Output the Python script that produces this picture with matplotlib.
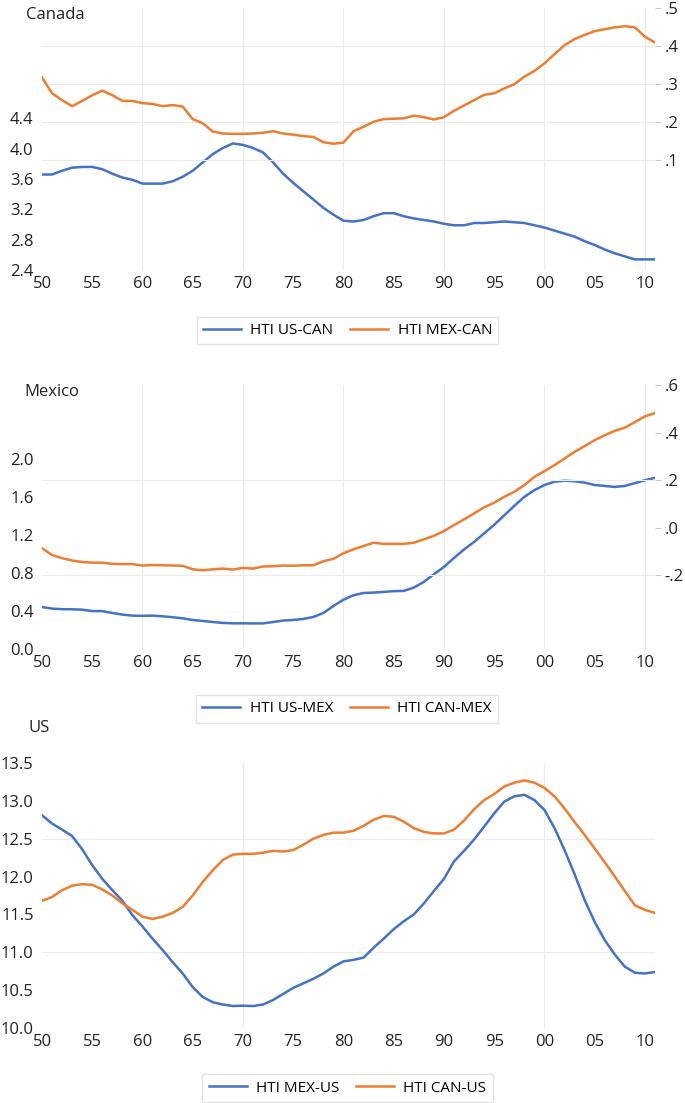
import matplotlib
matplotlib.use("Agg")
import matplotlib.pyplot as plt
from matplotlib.ticker import FuncFormatter

plt.rcParams['font.family'] = ['Open Sans', 'DejaVu Sans']

years = list(range(1950, 2012))

# Canada panel
hti_us_can = [3.66, 3.66, 3.71, 3.75, 3.76, 3.76, 3.73, 3.67, 3.62, 3.59,
              3.54, 3.54, 3.54, 3.57, 3.63, 3.71, 3.82, 3.93, 4.01, 4.07,
              4.05, 4.01, 3.95, 3.82, 3.67, 3.55, 3.44, 3.33, 3.22, 3.13,
              3.05, 3.04, 3.06, 3.11, 3.15, 3.15, 3.11, 3.08, 3.06, 3.04,
              3.01, 2.99, 2.99, 3.02, 3.02, 3.03, 3.04, 3.03, 3.02, 2.99,
              2.96, 2.92, 2.88, 2.84, 2.78, 2.73, 2.67, 2.62, 2.58, 2.54,
              2.54, 2.54]
hti_mex_can = [0.318, 0.276, 0.258, 0.242, 0.256, 0.271, 0.283, 0.271, 0.256, 0.256,
               0.250, 0.248, 0.242, 0.245, 0.241, 0.208, 0.197, 0.175, 0.170, 0.169,
               0.169, 0.170, 0.172, 0.176, 0.170, 0.167, 0.163, 0.161, 0.147, 0.143,
               0.146, 0.176, 0.188, 0.201, 0.208, 0.209, 0.210, 0.217, 0.213, 0.207,
               0.213, 0.230, 0.244, 0.258, 0.272, 0.276, 0.289, 0.300, 0.320, 0.335,
               0.355, 0.379, 0.403, 0.419, 0.430, 0.440, 0.445, 0.450, 0.453, 0.450,
               0.425, 0.410]

# Mexico panel
hti_us_mex = [0.443, 0.426, 0.420, 0.419, 0.415, 0.400, 0.400, 0.380, 0.363, 0.352,
              0.350, 0.352, 0.345, 0.335, 0.324, 0.306, 0.296, 0.285, 0.275, 0.271,
              0.271, 0.270, 0.270, 0.285, 0.300, 0.306, 0.317, 0.338, 0.380, 0.454,
              0.520, 0.567, 0.591, 0.595, 0.602, 0.610, 0.613, 0.648, 0.708, 0.789,
              0.866, 0.961, 1.050, 1.130, 1.220, 1.310, 1.410, 1.510, 1.605, 1.676,
              1.730, 1.765, 1.775, 1.770, 1.755, 1.730, 1.720, 1.710, 1.720, 1.750,
              1.780, 1.806]
hti_can_mex = [-0.086, -0.115, -0.128, -0.138, -0.144, -0.147, -0.147, -0.152, -0.153, -0.153,
               -0.159, -0.157, -0.158, -0.159, -0.160, -0.175, -0.179, -0.175, -0.172, -0.176,
               -0.169, -0.172, -0.163, -0.162, -0.159, -0.160, -0.158, -0.158, -0.141, -0.131,
               -0.107, -0.091, -0.077, -0.063, -0.068, -0.068, -0.068, -0.063, -0.049, -0.034,
               -0.014, 0.011, 0.035, 0.060, 0.086, 0.105, 0.130, 0.151, 0.179, 0.214,
               0.238, 0.263, 0.291, 0.319, 0.343, 0.368, 0.389, 0.407, 0.421, 0.444,
               0.468, 0.482]

# US panel
hti_mex_us = [12.81, 12.70, 12.62, 12.535, 12.36, 12.15, 11.97, 11.82, 11.68, 11.49,
              11.34, 11.18, 11.03, 10.87, 10.72, 10.54, 10.41, 10.34, 10.31, 10.29,
              10.295, 10.29, 10.31, 10.37, 10.45, 10.53, 10.59, 10.65, 10.72, 10.81,
              10.88, 10.90, 10.93, 11.06, 11.18, 11.305, 11.41, 11.50, 11.645, 11.81,
              11.97, 12.20, 12.34, 12.49, 12.66, 12.835, 12.99, 13.06, 13.08, 13.01,
              12.88, 12.64, 12.35, 12.03, 11.69, 11.40, 11.16, 10.97, 10.81, 10.73,
              10.72, 10.74]
hti_can_us = [11.68, 11.73, 11.82, 11.88, 11.90, 11.89, 11.83, 11.75, 11.645, 11.56,
              11.47, 11.44, 11.47, 11.52, 11.60, 11.75, 11.93, 12.085, 12.22, 12.29,
              12.30, 12.30, 12.315, 12.34, 12.33, 12.35, 12.42, 12.50, 12.55, 12.58,
              12.58, 12.605, 12.67, 12.75, 12.80, 12.79, 12.725, 12.64, 12.59, 12.57,
              12.57, 12.62, 12.74, 12.89, 13.01, 13.09, 13.19, 13.24, 13.27, 13.24,
              13.17, 13.06, 12.90, 12.72, 12.55, 12.37, 12.19, 12.00, 11.81, 11.62,
              11.56, 11.52]

x_ticks = list(range(1950, 2011, 5))
x_labels = [f"{y % 100:02d}" for y in x_ticks]

BLUE = '#4472C4'
ORANGE = '#ED7D31'
GRID = '#ebebeb'
TXT = '#222222'
W, H = 685, 1103


def rect(l, t, r, b):
    return [l / W, 1 - b / H, (r - l) / W, (b - t) / H]


def dot_fmt(v, pos):
    s = f"{v:.1f}"
    return s.replace("0.", ".", 1)


def base_axes(fig, box, ylim, yticks, vgrid, hgrid=None):
    ax = fig.add_axes(rect(*box))
    ax.set_xlim(1950, 2011)
    ax.set_ylim(*ylim)
    ax.set_xticks(x_ticks)
    ax.set_xticklabels(x_labels)
    ax.set_yticks(yticks)
    ax.yaxis.set_major_formatter(FuncFormatter(lambda v, p: f"{v:.1f}"))
    for s in ax.spines.values():
        s.set_visible(False)
    ax.tick_params(axis='both', length=0, labelsize=12, colors=TXT)
    ax.tick_params(axis='y', pad=6)
    ax.tick_params(axis='x', pad=4)
    for yr in vgrid:
        ax.axvline(yr, color=GRID, lw=0.8, zorder=0)
    for hv in (hgrid or []):
        ax.axhline(hv, color=GRID, lw=0.8, zorder=0)
    return ax


def right_axes(ax, ylim, yticks):
    ax2 = ax.twinx()
    ax2.set_ylim(*ylim)
    ax2.set_yticks(yticks)
    ax2.yaxis.set_major_formatter(FuncFormatter(dot_fmt))
    for s in ax2.spines.values():
        s.set_visible(False)
    ax2.tick_params(axis='y', length=4, width=0.8, color='#c8c8c8',
                    labelsize=12, labelcolor=TXT, pad=3)
    return ax2


def add_legend(fig, handles, labels, cx, cy):
    fig.legend(handles, labels, loc='center', bbox_to_anchor=(cx / W, 1 - cy / H),
               ncol=2, frameon=True, fancybox=False, edgecolor='#dddddd',
               fontsize=11, handlelength=2.5, handletextpad=0.6,
               columnspacing=1.1, borderpad=0.4)


fig = plt.figure(figsize=(W / 100, H / 100), dpi=100)

# ---- Canada
ax1 = base_axes(fig, (42, 8, 655, 270), (2.4, 5.857),
                [2.4, 2.8, 3.2, 3.6, 4.0, 4.4], [1960, 1970, 1980, 1990, 2000, 2010])
ax1b = right_axes(ax1, (-0.19, 0.501), [0.1, 0.2, 0.3, 0.4, 0.5])
for hv in [0.1, 0.2, 0.3, 0.4]:
    ax1b.axhline(hv, color=GRID, lw=0.8, zorder=0)
l1, = ax1.plot(years, hti_us_can, color=BLUE, lw=1.8)
l2, = ax1b.plot(years, hti_mex_can, color=ORANGE, lw=1.8)
fig.text(26 / W, 1 - 15 / H, "Canada", fontsize=12, va='center', ha='left', color=TXT)
add_legend(fig, [l1, l2], ["HTI US-CAN", "HTI MEX-CAN"], 347.5, 330.5)

# ---- Mexico
ax2 = base_axes(fig, (42, 385, 655, 649), (0.0, 2.785),
                [0.0, 0.4, 0.8, 1.2, 1.6, 2.0], [1960, 1970, 1980, 1990, 2000, 2010])
ax2b = right_axes(ax2, (-0.51, 0.598), [-0.2, 0.0, 0.2, 0.4, 0.6])
for hv in [-0.2, 0.2]:
    ax2b.axhline(hv, color=GRID, lw=0.8, zorder=0)
m1, = ax2.plot(years, hti_us_mex, color=BLUE, lw=1.8)
m2, = ax2b.plot(years, hti_can_mex, color=ORANGE, lw=1.8)
fig.text(24 / W, 1 - 392 / H, "Mexico", fontsize=12, va='center', ha='left', color=TXT)
add_legend(fig, [m1, m2], ["HTI US-MEX", "HTI CAN-MEX"], 347, 709)

# ---- US
ax3 = base_axes(fig, (42, 763, 655, 1028), (10.0, 13.5),
                [10.0, 10.5, 11.0, 11.5, 12.0, 12.5, 13.0, 13.5], [1970, 2000],
                hgrid=[11.0, 12.5])
u1, = ax3.plot(years, hti_mex_us, color=BLUE, lw=1.8)
u2, = ax3.plot(years, hti_can_us, color=ORANGE, lw=1.8)
fig.text(29 / W, 1 - 728 / H, "US", fontsize=12, va='center', ha='left', color=TXT)
add_legend(fig, [u1, u2], ["HTI MEX-US", "HTI CAN-US"], 347.5, 1088)

fig.savefig("out.png", dpi=100)
